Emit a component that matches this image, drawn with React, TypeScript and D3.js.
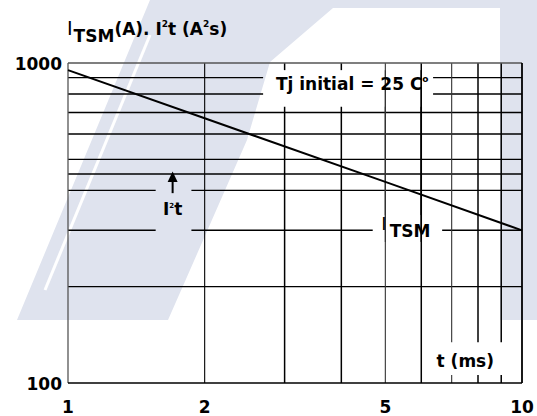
import * as d3 from 'd3';
import React, { useEffect, useRef } from 'react';

// I_TSM versus pulse width (log-log)
const itsmTime = [1, 2, 5, 10];
const itsmValues = [950, 672, 425, 300];

const xGridValues = [2, 3, 4, 5, 6, 7, 8, 9];
const yGridValues = [200, 300, 400, 450, 500, 600, 700, 800, 900];
const xTickLabels = [1, 2, 5, 10];
const yTickLabels = [100, 1000];

// grid is interrupted behind the labels (data units)
const hLineGaps: Record<number, [number, number][]> = {
    900: [[2.69, 6.37]],
    800: [[2.69, 6.37]],
    400: [[1.56, 1.87]],
    300: [[1.56, 1.87], [4.69, 6.67]],
};
const vLineGaps: Record<number, [number, number][]> = {
    3: [[730, 950]],
    4: [[730, 950]],
    5: [[730, 950], [276, 335]],
    6: [[730, 950], [276, 335]],
    7: [[106, 134]],
    8: [[106, 134]],
    9: [[106, 134]],
};

function App() {
    const chartRef = useRef<HTMLDivElement>(null);

    useEffect(() => {
        d3.select(chartRef.current).selectAll("*").remove();

        const svgWidth = 537;
        const svgHeight = 416;
        const margin = { top: 63, right: 15, bottom: 33, left: 68 };
        const width = svgWidth - margin.left - margin.right;
        const height = svgHeight - margin.top - margin.bottom;
        const font = "'DejaVu Sans', sans-serif";
        const wm = "#dfe3ee";

        const root = d3.select(chartRef.current).append("svg")
            .attr("width", svgWidth)
            .attr("height", svgHeight)
            .style("position", "absolute")
            .style("left", 0)
            .style("top", 0)
            .style("background", "white");

        // faint logo watermark behind the chart
        const mark = root.append("g");
        mark.append("path").attr("d", "M150,0 L345,0 L333,8 L270,62 L247,140 L190,270 L168,320 L17,320 Z").attr("fill", wm);
        mark.append("path").attr("d", "M270,0 H537 V8 H270 Z").attr("fill", wm);
        mark.append("path").attr("d", "M500,0 H537 V320 H500 Z").attr("fill", wm);
        mark.append("line").attr("x1", 150).attr("y1", 35).attr("x2", 45).attr("y2", 290)
            .attr("stroke", "white").attr("stroke-width", 3);

        const svg = root.append("g")
            .attr("transform", `translate(${margin.left},${margin.top})`);

        const x = d3.scaleLog().domain([1, 10]).range([0, width]);
        const y = d3.scaleLog().domain([100, 1000]).range([height, 0]);

        const split = (lo: number, hi: number, gaps: [number, number][] = []) => {
            const segs: [number, number][] = [];
            let start = lo;
            gaps.forEach(([a, b]) => {
                segs.push([start, a]);
                start = b;
            });
            segs.push([start, hi]);
            return segs;
        };

        // horizontal grid
        yGridValues.forEach(v => {
            split(1, 10, hLineGaps[v]).forEach(([a, b]) => {
                svg.append("line")
                    .attr("x1", x(a)).attr("x2", x(b))
                    .attr("y1", y(v)).attr("y2", y(v))
                    .attr("stroke", "#000")
                    .attr("stroke-width", 1.4);
            });
        });

        // vertical grid
        xGridValues.forEach(t => {
            split(100, 1000, vLineGaps[t]).forEach(([a, b]) => {
                svg.append("line")
                    .attr("x1", x(t)).attr("x2", x(t))
                    .attr("y1", y(a)).attr("y2", y(b))
                    .attr("stroke", t === 5 || t === 7 ? "#333" : "#000")
                    .attr("stroke-width", t === 5 || t === 7 || t === 2 ? 1.1 : 1.5);
            });
        });

        // frame
        svg.append("line").attr("x1", 0).attr("x2", 0).attr("y1", 0).attr("y2", height)
            .attr("stroke", "#555").attr("stroke-width", 1.3);
        svg.append("line").attr("x1", 0).attr("x2", width).attr("y1", 0).attr("y2", 0)
            .attr("stroke", "#555").attr("stroke-width", 1.3);
        svg.append("line").attr("x1", width).attr("x2", width).attr("y1", 0).attr("y2", height)
            .attr("stroke", "#000").attr("stroke-width", 1.8);
        svg.append("line").attr("x1", 0).attr("x2", width).attr("y1", height).attr("y2", height)
            .attr("stroke", "#000").attr("stroke-width", 1.6);

        // I_TSM curve
        const line = d3.line<number>()
            .x((d, i) => x(itsmTime[i]))
            .y(d => y(d));
        svg.append("path")
            .datum(itsmValues)
            .attr("d", line)
            .attr("fill", "none")
            .attr("stroke", "#000")
            .attr("stroke-width", 2);

        // tick labels
        svg.selectAll(".xlab")
            .data(xTickLabels)
            .enter().append("text")
            .attr("x", d => x(d))
            .attr("y", height + 30)
            .attr("text-anchor", "middle")
            .attr("font-family", font)
            .attr("font-weight", "bold")
            .attr("font-size", 17)
            .text(d => d);

        svg.selectAll(".ylab")
            .data(yTickLabels)
            .enter().append("text")
            .attr("x", -6)
            .attr("y", d => y(d) + 7)
            .attr("text-anchor", "end")
            .attr("font-family", font)
            .attr("font-weight", "bold")
            .attr("font-size", 17)
            .text(d => d);

        // title
        const title = root.append("text")
            .attr("x", margin.left - 1)
            .attr("y", 35)
            .attr("font-family", font)
            .attr("font-weight", "bold")
            .attr("font-size", 17);
        title.append("tspan").attr("font-weight", "normal").attr("font-size", 19).text("I");
        title.append("tspan").attr("dx", 1).attr("dy", 7).text("TSM");
        title.append("tspan").attr("dy", -7).text("(A). I");
        title.append("tspan").attr("dy", -8).attr("font-size", 9).text("2");
        title.append("tspan").attr("dy", 8).text("t (A");
        title.append("tspan").attr("dy", -8).attr("font-size", 9).text("2");
        title.append("tspan").attr("dy", 8).text("s)");

        // Tj note
        const tj = svg.append("text")
            .attr("x", x(2.87))
            .attr("y", y(825))
            .attr("font-family", font)
            .attr("font-weight", "bold")
            .attr("font-size", 17);
        tj.append("tspan").text("Tj initial = 25 C");
        tj.append("tspan").attr("dy", -8).attr("font-size", 9).text("o");

        // I²t marker with arrow
        const ax = x(1.7);
        svg.append("line")
            .attr("x1", ax).attr("x2", ax)
            .attr("y1", y(392)).attr("y2", y(430))
            .attr("stroke", "#000").attr("stroke-width", 2);
        svg.append("path")
            .attr("d", `M${ax},${y(458)} L${ax - 5},${y(425)} L${ax + 5},${y(425)} Z`)
            .attr("fill", "#000");
        const i2t = svg.append("text")
            .attr("x", ax)
            .attr("y", y(335))
            .attr("text-anchor", "middle")
            .attr("font-family", font)
            .attr("font-weight", "bold")
            .attr("font-size", 17);
        i2t.append("tspan").text("I");
        i2t.append("tspan").attr("dy", -7).attr("font-size", 7).text("2");
        i2t.append("tspan").attr("dy", 7).text("t");

        // I_TSM curve label
        const itsm = svg.append("text")
            .attr("x", x(4.9))
            .attr("y", y(300))
            .attr("font-family", font)
            .attr("font-weight", "bold")
            .attr("font-size", 17);
        itsm.append("tspan").attr("font-weight", "normal").attr("font-size", 18).text("I");
        itsm.append("tspan").attr("dx", 3).attr("dy", 7).text("TSM");

        // x axis title
        svg.append("text")
            .attr("x", x(7.5))
            .attr("y", y(112))
            .attr("text-anchor", "middle")
            .attr("font-family", font)
            .attr("font-weight", "bold")
            .attr("font-size", 17)
            .text("t (ms)");
    }, []);

    return <div ref={chartRef} />;
}

export default App;
